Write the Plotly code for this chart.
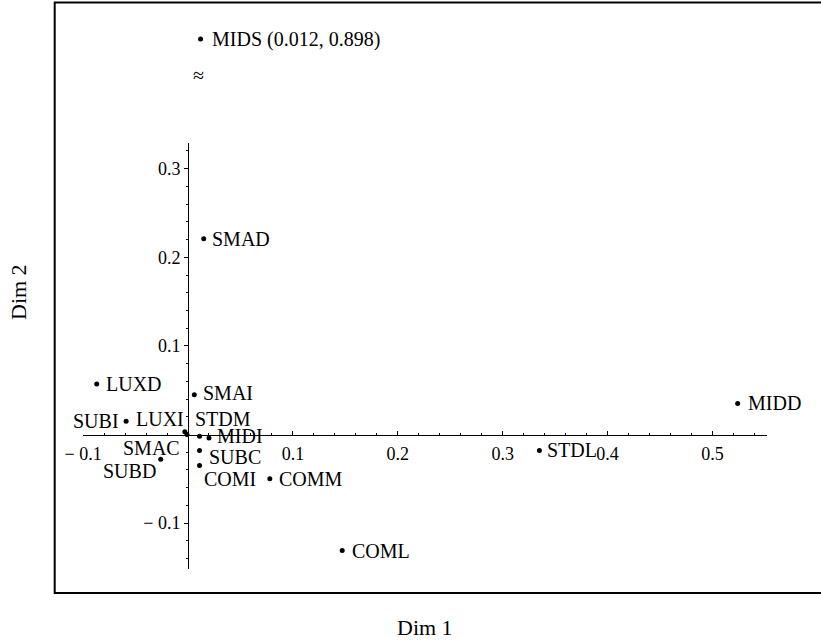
import plotly.graph_objects as go

# ---------------- data ----------------
labels = ["SMAD", "LUXD", "SMAI", "SUBI", "LUXI", "STDM", "MIDD", "MIDI",
          "SMAC", "SUBC", "STDL", "SUBD", "COMI", "COMM", "COML"]
dim1 = [0.015, -0.087, 0.006, -0.059, -0.003, 0.011, 0.524, 0.020,
        -0.001, 0.011, 0.335, -0.026, 0.011, 0.078, 0.147]
dim2 = [0.221, 0.057, 0.045, 0.015, 0.003, -0.002, 0.035, -0.004,
        0.000, -0.018, -0.018, -0.028, -0.035, -0.050, -0.131]

outlier_label = "MIDS"
outlier_dim1 = 0.012
outlier_dim2 = 0.898

x_tickvals = [-0.1, 0.1, 0.2, 0.3, 0.4, 0.5]
x_ticktext = ["\u2212 0.1", "0.1", "0.2", "0.3", "0.4", "0.5"]
y_tickvals = [-0.1, 0.1, 0.2, 0.3]
y_ticktext = ["\u2212 0.1", "0.1", "0.2", "0.3"]

# ---------------- layout / style ----------------
W, H = 821, 641
X0PX, XPX = 188.0, 1049.0      # pixel of x=0, pixels per unit
Y0PX, YPX = 434.5, 886.0       # pixel (from top) of y=0, pixels per unit
XR = [-0.1, 0.552]
YR = [-0.152, 0.329]

def xpaper(v):
    return (X0PX + XPX * v) / W

def ypaper(v):
    return (H - (Y0PX - YPX * v)) / H

FONT = "Liberation Serif, Times New Roman, serif"
LABEL_SIZE = 20

# label placement style: (xanchor, xshift, yshift)
label_style = {
    "SMAD": ("left", 7, 0), "LUXD": ("left", 8, 0), "SMAI": ("left", 8, 2),
    "SUBI": ("right", -6, 0), "LUXI": ("right", 0, 13), "STDM": ("left", -6, 17),
    "MIDD": ("left", 9, 0), "MIDI": ("left", 7, 2), "SMAC": ("right", -6, -14),
    "SUBC": ("left", 8, -7), "STDL": ("left", 7, 0), "SUBD": ("right", -4, -12),
    "COMI": ("left", 3, -13), "COMM": ("left", 8, 0), "COML": ("left", 9, 0),
}

fig = go.Figure()

fig.add_trace(go.Scatter(
    x=dim1, y=dim2, mode="markers", xaxis="x", yaxis="y",
    marker=dict(color="black", size=5), cliponaxis=False,
    hoverinfo="text", text=labels,
))

fig.add_trace(go.Scatter(
    x=[outlier_dim1], y=[outlier_dim2], mode="markers", xaxis="x", yaxis="y2",
    marker=dict(color="black", size=5), cliponaxis=False,
    hoverinfo="text", text=[outlier_label],
))

annotations = []
for lab, xv, yv in zip(labels, dim1, dim2):
    xa, xs, ys = label_style[lab]
    annotations.append(dict(
        x=xv, y=yv, xref="x", yref="y", text=lab, showarrow=False,
        xanchor=xa, yanchor="middle", xshift=xs, yshift=ys, borderpad=0,
        font=dict(family=FONT, size=LABEL_SIZE, color="black"),
    ))

annotations.append(dict(
    x=outlier_dim1, y=outlier_dim2, xref="x", yref="y2",
    text=f"{outlier_label} ({outlier_dim1:.3f}, {outlier_dim2:.3f})",
    showarrow=False, xanchor="left", yanchor="middle", xshift=9,
    font=dict(family=FONT, size=LABEL_SIZE, color="black"),
))
# axis break mark
annotations.append(dict(
    x=outlier_dim1, y=(H - 75) / H, xref="x", yref="paper", text="\u2248",
    showarrow=False, xanchor="center", yanchor="middle", xshift=-2,
    font=dict(family=FONT, size=20, color="black"),
))
# axis titles
annotations.append(dict(
    x=425 / W, y=(H - 627) / H, xref="paper", yref="paper", text="Dim 1",
    showarrow=False, xanchor="center", yanchor="middle",
    font=dict(family=FONT, size=22, color="black"),
))
annotations.append(dict(
    x=18 / W, y=(H - 292) / H, xref="paper", yref="paper", text="Dim 2",
    showarrow=False, xanchor="center", yanchor="middle", textangle=-90,
    font=dict(family=FONT, size=22, color="black"),
))

# top segment for broken axis (MIDS)
Y2_TOP_PX, Y2_BOT_PX, MIDS_PX = 0.0, 90.0, 39.0
y2_range = [outlier_dim2 - (Y2_BOT_PX - MIDS_PX) / YPX,
            outlier_dim2 + (MIDS_PX - Y2_TOP_PX) / YPX]

tickfont = dict(family=FONT, size=18, color="black")

fig.update_layout(
    template="none",
    width=W, height=H, autosize=False,
    margin=dict(l=0, r=0, t=0, b=0, pad=0),
    paper_bgcolor="white", plot_bgcolor="rgba(0,0,0,0)",
    showlegend=False,
    font=dict(family=FONT, size=18, color="black"),
    xaxis=dict(
        domain=[xpaper(XR[0]), xpaper(XR[1])], range=XR, automargin=False,
        anchor="free", position=ypaper(0),
        showline=True, linecolor="black", linewidth=1,
        showgrid=False, zeroline=False,
        tickmode="array", tickvals=x_tickvals, ticktext=x_ticktext,
        ticks="inside", ticklen=4, tickwidth=1, tickcolor="black",
        ticklabelstandoff=3,
        minor=dict(tick0=0, dtick=0.02, ticks="inside", ticklen=2,
                   tickcolor="black", tickwidth=1, showgrid=False),
        tickfont=tickfont, fixedrange=True,
    ),
    yaxis=dict(
        domain=[ypaper(YR[0]), ypaper(YR[1])], range=YR, automargin=False,
        anchor="free", position=xpaper(0),
        showline=True, linecolor="black", linewidth=1,
        showgrid=False, zeroline=False,
        tickmode="array", tickvals=y_tickvals, ticktext=y_ticktext,
        ticks="outside", ticklen=4, tickwidth=1, tickcolor="black",
        minor=dict(tick0=0, dtick=0.02, ticks="outside", ticklen=2,
                   tickcolor="black", tickwidth=1, showgrid=False),
        tickfont=tickfont, fixedrange=True,
    ),
    yaxis2=dict(
        domain=[(H - Y2_BOT_PX) / H, (H - Y2_TOP_PX) / H], range=y2_range,
        visible=False, anchor="x", automargin=False, fixedrange=True,
    ),
    annotations=annotations,
    shapes=[dict(
        type="rect", xref="paper", yref="paper",
        x0=54.7 / W, x1=1.05, y0=(H - 593) / H, y1=(H - 2.5) / H,
        line=dict(color="black", width=2), fillcolor="rgba(0,0,0,0)",
    )],
)

fig.write_html("out.html")
